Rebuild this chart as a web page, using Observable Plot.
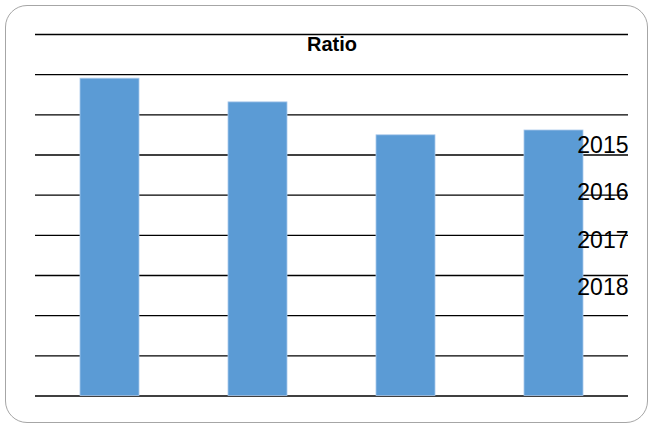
<!DOCTYPE html>
<html>
<head>
<meta charset="utf-8">
<script src="https://cdn.jsdelivr.net/npm/d3@7"></script>
<script src="https://cdn.jsdelivr.net/npm/@observablehq/plot@0.6"></script>
<style>
  html, body { margin: 0; padding: 0; background: #fff; }
  #wrap { position: relative; width: 654px; height: 424px; overflow: hidden; }
  #wrap svg { display: block; }
  #border { position: absolute; left: 5px; top: 5px; width: 643px; height: 418px;
            border: 1.5px solid #a6a6a6; border-radius: 22px; box-sizing: border-box; pointer-events: none; }
</style>
</head>
<body>
<div id="wrap"><div id="border"></div></div>
<script>
const title = "Ratio";
const categories = ["2015", "2016", "2017", "2018"];
const values = [7.9, 7.31, 6.49, 6.61];
const gridTicks = [0, 1, 2, 3, 4, 5, 6, 7, 8, 9];
const legendLabels = ["2015", "2016", "2017", "2018"];

const data = categories.map((c, i) => ({category: c, value: values[i]}));

const legendMarks = legendLabels.map((lab, i) =>
  Plot.text([lab], {
    text: d => d, frameAnchor: "top-right", lineAnchor: "middle", dx: 0, dy: 111 + i * 47.5,
    fontSize: 23, fill: "#000", textAnchor: "end"
  })
);

const chart = Plot.plot({
  width: 654,
  height: 424,
  marginTop: 34,
  marginBottom: 28.5,
  marginLeft: 35,
  marginRight: 26,
  style: {fontFamily: "'Liberation Sans', Arial, sans-serif", background: "transparent"},
  x: {domain: categories, paddingInner: 0.6, paddingOuter: 0.3, axis: null},
  y: {domain: [0, 9], axis: null},
  marks: [
    Plot.ruleY(gridTicks, {stroke: "#000", strokeWidth: 1.3}),
    Plot.barY(data, {x: "category", y: "value", fill: "#5B9BD5", stroke: "#a9c8ea", strokeWidth: 0.8}),
    Plot.text([title], {text: d => d, frameAnchor: "top", lineAnchor: "middle", dy: 10, fontSize: 20, fontWeight: "bold", fill: "#000"}),
    ...legendMarks
  ]
});
document.getElementById("wrap").prepend(chart);
</script>
</body>
</html>
